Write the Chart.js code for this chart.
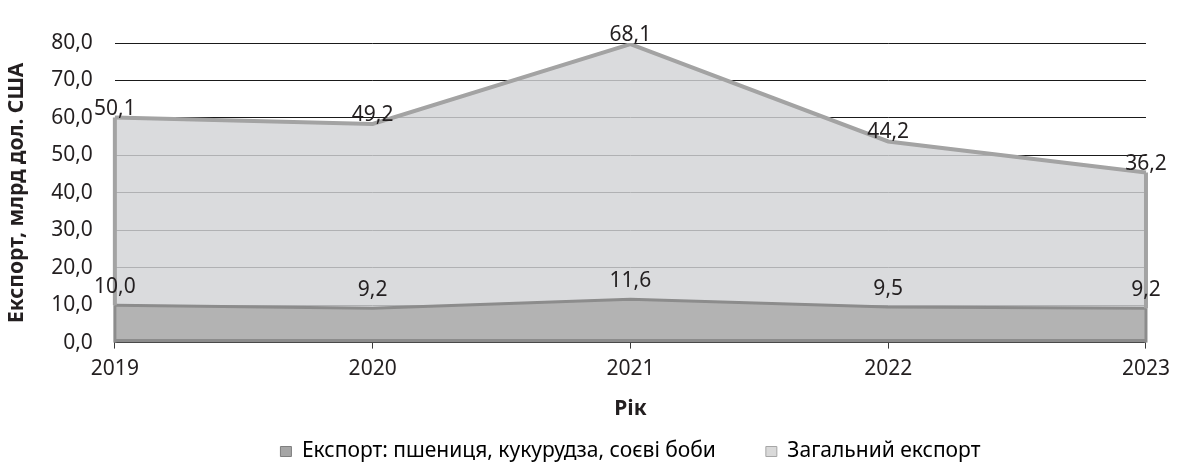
<!DOCTYPE html>
<html>
<head>
<meta charset="utf-8">
<style>
  body { margin: 0; background: #fff; }
</style>
</head>
<body>
<canvas id="exportChart" width="1178" height="468"></canvas>

<script src="https://cdn.jsdelivr.net/npm/chart.js"></script>

<script>
// дані з діаграми
const years = ['2019', '2020', '2021', '2022', '2023'];
const grainExport = [10.0, 9.2, 11.6, 9.5, 9.2];
const totalExport = [50.1, 49.2, 68.1, 44.2, 36.2];
const yTicks = [0, 10, 20, 30, 40, 50, 60, 70, 80];

const FONT = 'Noto Sans';
const fmt = v => v.toFixed(1).replace('.', ',');

// підписи значень над точками
const valueLabels = {
  id: 'valueLabels',
  afterDatasetsDraw(chart) {
    const ctx = chart.ctx;
    ctx.save();
    ctx.font = '21px "' + FONT + '"';
    ctx.fillStyle = '#231f20';
    ctx.textAlign = 'center';
    ctx.textBaseline = 'middle';
    chart.data.datasets.forEach((ds, i) => {
      const meta = chart.getDatasetMeta(i);
      const shift = i === 0 ? -18 : -9;
      meta.data.forEach((pt, j) => {
        ctx.fillText(fmt(ds.data[j]), pt.x, pt.y + shift);
      });
    });
    ctx.restore();
  }
};

// вертикальні краї областей і нижня межа
const areaEdges = {
  id: 'areaEdges',
  afterDatasetsDraw(chart) {
    const ctx = chart.ctx;
    const y0 = chart.scales.y.getPixelForValue(0);
    ctx.save();
    chart.data.datasets.forEach((ds, i) => {
      const meta = chart.getDatasetMeta(i);
      const below = i > 0 ? chart.getDatasetMeta(i - 1).data : null;
      ctx.strokeStyle = ds.borderColor;
      ctx.lineWidth = ds.borderWidth;
      [0, meta.data.length - 1].forEach(j => {
        const pt = meta.data[j];
        const base = below ? below[j].y : y0;
        ctx.beginPath();
        ctx.moveTo(pt.x, pt.y);
        ctx.lineTo(pt.x, base);
        ctx.stroke();
      });
      if (i === 0) {
        ctx.beginPath();
        ctx.moveTo(meta.data[0].x, y0 - 2);
        ctx.lineTo(meta.data[meta.data.length - 1].x, y0 - 2);
        ctx.stroke();
      }
    });
    ctx.restore();
  }
};

new Chart(document.getElementById('exportChart').getContext('2d'), {
  type: 'line',
  data: {
    labels: years,
    datasets: [
      {
        label: 'Експорт: пшениця, кукурудза, соєві боби',
        data: grainExport,
        backgroundColor: '#b3b3b3',
        borderColor: '#8c8c8c',
        borderWidth: 3,
        pointRadius: 0,
        tension: 0,
        fill: 'origin'
      },
      {
        label: 'Загальний експорт',
        data: totalExport,
        backgroundColor: 'rgba(210, 211, 213, 0.82)',
        borderColor: '#a3a3a3',
        borderWidth: 4,
        pointRadius: 0,
        tension: 0,
        fill: '-1'
      }
    ]
  },
  options: {
    responsive: false,
    animation: false,
    layout: { padding: { top: 43, right: 27, left: 0, bottom: 0 } },
    plugins: {
      tooltip: { enabled: false },
      legend: {
        position: 'bottom',
        fullSize: false,
        maxHeight: 35,
        labels: {
          font: { family: FONT, size: 21 },
          color: '#231f20',
          boxWidth: 11,
          boxHeight: 10,
          padding: 8,
          generateLabels(chart) {
            return chart.data.datasets.map((ds, i) => ({
              // зайві пробіли дають ширший проміжок між пунктами, як в оригіналі
              text: i === 0 ? ds.label + '\u2003\u2003' : ds.label,
              fillStyle: i === 0 ? '#a6a6a6' : '#d9d9d9',
              strokeStyle: i === 0 ? '#7f7f7f' : '#a6a6a6',
              lineWidth: 1,
              datasetIndex: i
            }));
          }
        }
      }
    },
    scales: {
      x: {
        offset: false,
        border: { color: '#3a3a3a', width: 1 },
        grid: { display: true, drawOnChartArea: false, drawTicks: true, tickLength: 6, color: '#3a3a3a' },
        ticks: { font: { family: FONT, size: 21 }, color: '#231f20', padding: 8, maxRotation: 0 },
        title: { display: true, text: 'Рік', font: { family: FONT, size: 21, weight: 'bold' }, color: '#231f20', padding: { top: 7, bottom: 11 } }
      },
      y: {
        stacked: true,
        min: 0,
        max: 80,
        afterBuildTicks(axis) { axis.ticks = yTicks.map(v => ({ value: v })); },
        border: { display: false },
        grid: { color: '#1a1a1a', lineWidth: 1, drawTicks: false },
        ticks: { font: { family: FONT, size: 21 }, color: '#231f20', padding: 22, callback: v => fmt(v) },
        title: { display: true, text: 'Експорт, млрд дол. США', font: { family: FONT, size: 21, weight: 'bold' }, color: '#231f20', padding: { top: 4, bottom: 0 } }
      }
    }
  },
  plugins: [areaEdges, valueLabels]
});
</script>
</body>
</html>
